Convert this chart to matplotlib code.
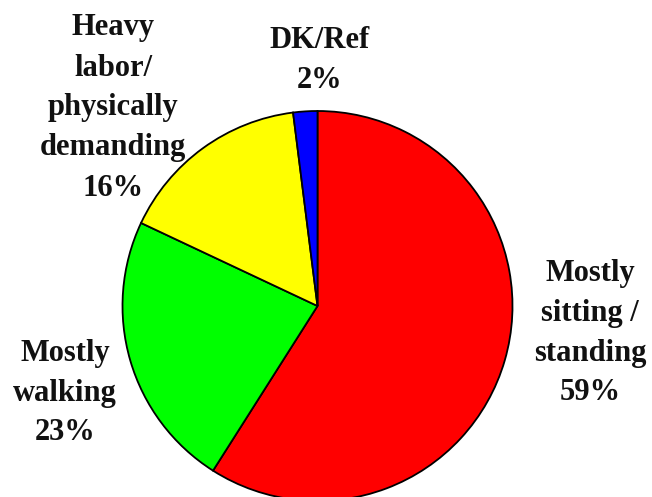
import matplotlib
matplotlib.use("Agg")
import matplotlib.pyplot as plt

categories = ["Mostly\nsitting /\nstanding", "Mostly\nwalking", "Heavy\nlabor/\nphysically\ndemanding", "DK/Ref"]
values = [59, 23, 16, 2]
colors = ["#FF0000", "#00FF00", "#FFFF00", "#0000FF"]

W, H = 652, 497
fig = plt.figure(figsize=(W/100, H/100), dpi=100)
cx, cy, r = 317.5, 306, 195
ax = fig.add_axes([(cx - r)/W, (H - cy - r)/H, 2*r/W, 2*r/H])
ax.pie(values, colors=colors, startangle=90, counterclock=False,
       wedgeprops=dict(edgecolor="black", linewidth=1.3))
ax.set_xlim(-1, 1); ax.set_ylim(-1, 1)
ax.set_aspect("equal")

label_pos = [(590, 333), (65, 393), (113, 108), (320, 60)]
for cat, v, (px, py) in zip(categories, values, label_pos):
    fig.text(px/W, 1 - py/H, f"{cat}\n{v}%", ha="center", va="center",
             fontsize=22, fontweight="bold", family="Liberation Serif",
             linespacing=1.5, color="#111111")

fig.savefig("out.png", dpi=100)
